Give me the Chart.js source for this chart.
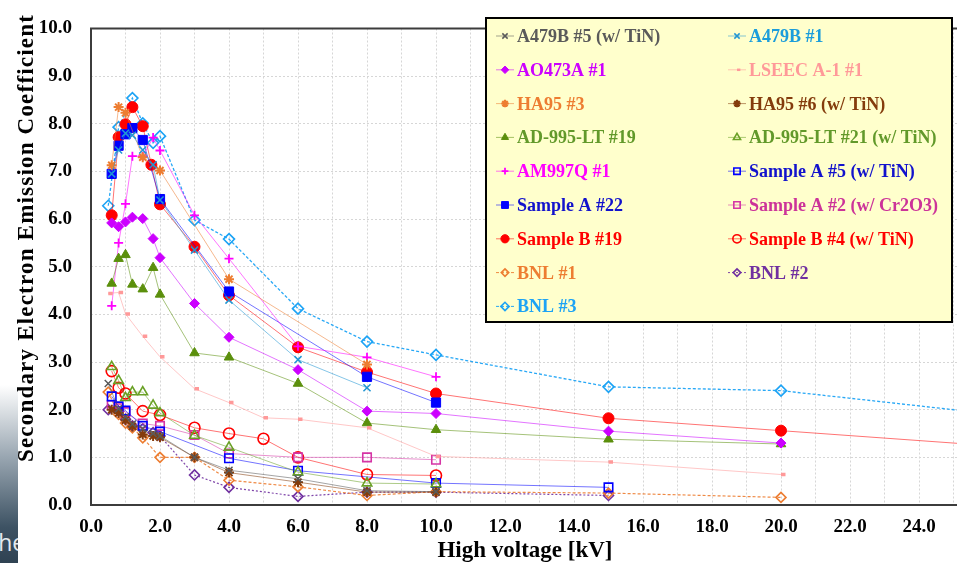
<!DOCTYPE html>
<html>
<head>
<meta charset="utf-8">
<title>Secondary Electron Emission Coefficient</title>
<script src="https://cdn.jsdelivr.net/npm/chart.js@4.4.1/dist/chart.umd.min.js"></script>
<style>
  html, body { margin: 0; padding: 0; background: #fff; overflow: hidden; }
  #wrap { position: relative; width: 957px; height: 563px; overflow: hidden; }
  #chart { position: absolute; left: 0; top: 0; }
  #slide { position: absolute; left: 0; top: 385px; width: 18px; height: 178px; overflow: hidden;
           background: linear-gradient(#ffffff, #9aa7b2 40%, #3d5263 80%, #2f4252); }
  #slide span { position: absolute; left: -10px; top: 146px; color: #e4e9ee;
                font: 23px 'Open Sans', sans-serif; line-height: 23px; }
</style>
</head>
<body>
<div id="wrap">
  <div id="slide"><span>the</span></div>
  <canvas id="chart" width="1001" height="563"></canvas>
</div>
<script>
// Voltage [kV] and SEE coefficient for each sample
const a479b5V = [0.5, 0.8, 1.0, 1.2, 1.5, 1.8, 2.0, 3.0, 4.0, 6.0, 8.0, 10.0];
const a479b5Y = [2.55, 2.02, 1.85, 1.70, 1.60, 1.50, 1.45, 1.00, 0.73, 0.55, 0.30, 0.28];

const a479b1V = [0.6, 0.8, 1.0, 1.2, 1.5, 1.8, 2.0, 3.0, 4.0, 6.0, 8.0];
const a479b1Y = [6.95, 7.45, 7.80, 7.76, 7.45, 7.14, 6.40, 5.35, 4.30, 3.05, 2.46];

const ao473aV = [0.6, 0.8, 1.0, 1.2, 1.5, 1.8, 2.0, 3.0, 4.0, 6.0, 8.0, 10.0, 15.0, 20.0];
const ao473aY = [5.92, 5.84, 5.94, 6.04, 6.01, 5.59, 5.19, 4.23, 3.52, 2.84, 1.97, 1.92, 1.55, 1.30];

const lseecV = [0.5, 0.8, 1.0, 1.5, 2.0, 3.0, 4.0, 5.0, 6.0, 8.0, 10.0, 15.0, 20.0];
const lseecY = [4.44, 4.46, 4.01, 3.54, 3.11, 2.44, 2.15, 1.83, 1.80, 1.62, 1.02, 0.90, 0.64];

const ha95n3V = [0.6, 0.8, 1.0, 1.5, 2.0, 4.0, 8.0];
const ha95n3Y = [7.13, 8.35, 8.23, 7.30, 7.02, 4.74, 2.95];

const ha95n6V = [0.6, 0.8, 1.0, 1.2, 1.5, 1.8, 2.0, 3.0, 4.0, 6.0, 8.0, 10.0];
const ha95n6Y = [2.00, 1.93, 1.78, 1.65, 1.48, 1.45, 1.42, 1.00, 0.68, 0.48, 0.27, 0.27];

const ad19V = [0.6, 0.8, 1.0, 1.2, 1.5, 1.8, 2.0, 3.0, 4.0, 6.0, 8.0, 10.0, 15.0, 20.0];
const ad19Y = [4.65, 5.17, 5.25, 4.63, 4.53, 4.98, 4.42, 3.19, 3.10, 2.55, 1.72, 1.58, 1.38, 1.28];

const ad21V = [0.6, 0.8, 1.0, 1.2, 1.5, 1.8, 2.0, 3.0, 4.0, 6.0, 8.0, 10.0];
const ad21Y = [2.90, 2.61, 2.25, 2.37, 2.37, 2.09, 1.93, 1.46, 1.21, 0.69, 0.46, 0.44];

const am997qV = [0.6, 0.8, 1.0, 1.2, 1.5, 1.8, 2.0, 3.0, 4.0, 6.0, 8.0, 10.0];
const am997qY = [4.18, 5.50, 6.32, 7.32, 7.32, 7.71, 7.44, 6.08, 5.17, 3.33, 3.10, 2.69];

const sampA5V = [0.6, 0.8, 1.0, 1.5, 2.0, 4.0, 6.0, 10.0, 15.0];
const sampA5Y = [2.28, 2.07, 1.98, 1.66, 1.54, 0.98, 0.72, 0.46, 0.37];

const sampA22V = [0.6, 0.8, 1.0, 1.2, 1.5, 2.0, 4.0, 8.0, 10.0];
const sampA22Y = [6.95, 7.54, 7.78, 7.91, 7.66, 6.42, 4.48, 2.69, 2.15];

const sampA2V = [0.6, 0.8, 1.0, 1.5, 2.0, 3.0, 4.0, 6.0, 8.0, 10.0];
const sampA2Y = [2.10, 2.03, 1.95, 1.71, 1.66, 1.47, 1.08, 1.00, 1.00, 0.95];

const sampB19V = [0.6, 0.8, 1.0, 1.2, 1.5, 1.75, 2.0, 3.0, 4.0, 6.0, 8.0, 10.0, 15.0, 20.0, 30.0];
const sampB19Y = [6.08, 7.72, 7.99, 8.35, 7.95, 7.14, 6.31, 5.42, 4.40, 3.31, 2.79, 2.34, 1.82, 1.56, 1.04];

const sampB4V = [0.6, 0.8, 1.0, 1.5, 2.0, 3.0, 4.0, 5.0, 6.0, 8.0, 10.0];
const sampB4Y = [2.81, 2.46, 2.34, 1.97, 1.89, 1.62, 1.50, 1.39, 1.00, 0.64, 0.62];

const bnl1V = [0.5, 0.8, 1.0, 1.2, 1.5, 2.0, 3.0, 4.0, 6.0, 8.0, 10.0, 15.0, 20.0];
const bnl1Y = [2.37, 1.90, 1.72, 1.62, 1.41, 1.00, 1.00, 0.52, 0.38, 0.20, 0.28, 0.25, 0.16];

const bnl2V = [0.5, 0.8, 1.0, 1.2, 1.5, 1.8, 2.0, 3.0, 4.0, 6.0, 8.0, 10.0, 15.0];
const bnl2Y = [2.00, 1.97, 1.80, 1.66, 1.60, 1.52, 1.45, 0.63, 0.37, 0.18, 0.27, 0.27, 0.20];

const bnl3V = [0.5, 0.8, 1.2, 1.5, 1.8, 2.0, 3.0, 4.0, 6.0, 8.0, 10.0, 15.0, 20.0, 30.0];
const bnl3Y = [6.28, 7.93, 8.54, 8.01, 7.60, 7.74, 5.98, 5.58, 4.12, 3.43, 3.15, 2.48, 2.40, 1.60];

// x axis: 0 .. 26 kV, labels every 2 kV
const xMin = 0, xMax = 26, yMin = 0, yMax = 10;

const serif = "'Liberation Serif', 'Times New Roman', serif";

function fade(hex, a) {
    const n = parseInt(hex.slice(1), 16);
    return `rgba(${n >> 16}, ${(n >> 8) & 255}, ${n & 255}, ${a})`;
}

function series(label, xs, ys, color, shape, r, open, opts) {
    opts = opts || {};
    return {
        label: label,
        data: xs.map((x, i) => ({ x: x, y: ys[i] })),
        showLine: true,
        borderColor: fade(color, opts.lineAlpha || 0.55),
        borderWidth: opts.lineWidth || 1,
        borderDash: opts.dash || [],
        pointStyle: shape,
        pointRadius: r,
        pointHoverRadius: r,
        pointBorderColor: color,
        pointBackgroundColor: open ? 'rgba(255,255,255,0)' : color,
        pointBorderWidth: opts.pw || (open ? 1.6 : 1),
        textColor: opts.text || color
    };
}

const datasets = [
    series('A479B #5 (w/ TiN)', a479b5V, a479b5Y, '#5A5A5A', 'crossRot', 5, true, { pw: 1.5 }),
    series('A479B #1', a479b1V, a479b1Y, '#2196D3', 'crossRot', 5, true, { pw: 1.5, text: '#1B9DDB' }),
    series('AO473A #1', ao473aV, ao473aY, '#CC00FF', 'rectRot', 5, false),
    series('LSEEC A-1 #1', lseecV, lseecY, '#FF9999', 'dash', 4.5, true, { pw: 3.5 }),
    series('HA95 #3', ha95n3V, ha95n3Y, '#ED7D31', 'star', 5, true, { pw: 2 }),
    series('HA95 #6 (w/ TiN)', ha95n6V, ha95n6Y, '#843C0C', 'star', 5, true, { pw: 2 }),
    series('AD-995-LT #19', ad19V, ad19Y, '#5B8F0C', 'triangle', 5.5, false, { text: '#62992A' }),
    series('AD-995-LT #21 (w/ TiN)', ad21V, ad21Y, '#6AA126', 'triangle', 5.5, true, { text: '#62992A' }),
    series('AM997Q #1', am997qV, am997qY, '#FF00FF', 'cross', 4.5, true, { pw: 1.8 }),
    series('Sample A #5 (w/ TiN)', sampA5V, sampA5Y, '#0000FF', 'rect', 6, true, { text: '#1212CC' }),
    series('Sample A #22', sampA22V, sampA22Y, '#0000FF', 'rect', 6.5, false, { text: '#1212CC' }),
    series('Sample A #2 (w/ Cr2O3)', sampA2V, sampA2Y, '#D535A5', 'rect', 6, true, { text: '#CC3399' }),
    series('Sample B #19', sampB19V, sampB19Y, '#FF0000', 'circle', 5.5, false),
    series('Sample B #4 (w/ TiN)', sampB4V, sampB4Y, '#FF0000', 'circle', 5.5, true),
    series('BNL #1', bnl1V, bnl1Y, '#ED7D31', 'rectRot', 5, true, { dash: [3, 2], lineAlpha: 0.9, lineWidth: 1.2 }),
    series('BNL #2', bnl2V, bnl2Y, '#7030A0', 'rectRot', 5, true, { dash: [2, 2], lineAlpha: 0.9, lineWidth: 1.2 }),
    series('BNL #3', bnl3V, bnl3Y, '#1CA3F5', 'rectRot', 5.5, true, { dash: [3, 2], lineAlpha: 0.95, lineWidth: 1.3 })
];

// frame, axis titles and the boxed legend inside the plot
const decorations = {
    id: 'decorations',
    afterDraw(chart) {
        const ctx = chart.ctx;
        const a = chart.chartArea;
        ctx.save();
        ctx.strokeStyle = '#3C3C3C';
        ctx.lineWidth = 2;
        ctx.strokeRect(a.left, a.top, a.right - a.left, a.bottom - a.top);

        ctx.fillStyle = '#000';
        ctx.font = 'bold 23px ' + serif;
        ctx.textAlign = 'center';
        ctx.textBaseline = 'alphabetic';
        ctx.fillText('High voltage [kV]', 525, 557);
        ctx.save();
        ctx.translate(33, 238);
        ctx.rotate(-Math.PI / 2);
        ctx.letterSpacing = '1.2px';
        ctx.fillText('Secondary Electron Emission Coefficient', 0, 0);
        ctx.restore();

        // legend box
        const bx = 486, by = 18, bw = 466, bh = 304;
        ctx.fillStyle = '#FFFFCC';
        ctx.fillRect(bx, by, bw, bh);
        ctx.strokeStyle = '#000';
        ctx.lineWidth = 2;
        ctx.strokeRect(bx, by, bw, bh);

        ctx.font = 'bold 18px ' + serif;
        ctx.textAlign = 'left';
        chart.data.datasets.forEach((ds, i) => {
            const row = Math.floor(i / 2);
            const mx = i % 2 ? 737 : 505;
            const base = 42 + row * 33.8;
            const my = base - 6;
            ctx.strokeStyle = ds.borderColor;
            ctx.lineWidth = 1;
            ctx.setLineDash(ds.borderDash);
            ctx.beginPath();
            ctx.moveTo(mx - 9, my);
            ctx.lineTo(mx + 9, my);
            ctx.stroke();
            ctx.setLineDash([]);
            ctx.fillStyle = ds.pointBackgroundColor;
            ctx.strokeStyle = ds.pointBorderColor;
            ctx.lineWidth = Math.min(ds.pointBorderWidth, 2.5);
            Chart.helpers.drawPoint(ctx, {
                pointStyle: ds.pointStyle,
                radius: ds.pointRadius * 0.75,
                borderWidth: ctx.lineWidth,
                rotation: 0
            }, mx, my);
            ctx.fillStyle = ds.textColor;
            ctx.fillText(ds.label, mx + 12, base);
        });
        ctx.restore();
    }
};

const tickFont = { family: serif, size: 19, weight: 'bold', lineHeight: 1 };

new Chart(document.getElementById('chart'), {
    type: 'scatter',
    data: { datasets: datasets },
    options: {
        responsive: false,
        animation: false,
        layout: { padding: { top: 10, right: 0, bottom: 0, left: 0 } },
        plugins: {
            legend: { display: false },
            tooltip: { enabled: false }
        },
        scales: {
            x: {
                type: 'linear',
                min: xMin,
                max: xMax,
                afterFit: (s) => { s.height = 58; },
                ticks: {
                    stepSize: 1,
                    autoSkip: false,
                    maxRotation: 0,
                    padding: 13,
                    color: '#000',
                    font: tickFont,
                    callback: (v) => (v % 2 === 0 && v <= 24 ? v.toFixed(1) : '')
                },
                grid: { color: '#D6D6D6', lineWidth: 1, drawTicks: false },
                border: { display: false, dash: [2, 2] }
            },
            y: {
                min: yMin,
                max: yMax,
                afterFit: (s) => { s.width = 91; },
                ticks: {
                    stepSize: 1,
                    padding: 19,
                    color: '#000',
                    font: tickFont,
                    callback: (v) => v.toFixed(1)
                },
                grid: { color: '#D6D6D6', lineWidth: 1, drawTicks: false },
                border: { display: false, dash: [2, 2] }
            }
        }
    },
    plugins: [decorations]
});
</script>
</body>
</html>
